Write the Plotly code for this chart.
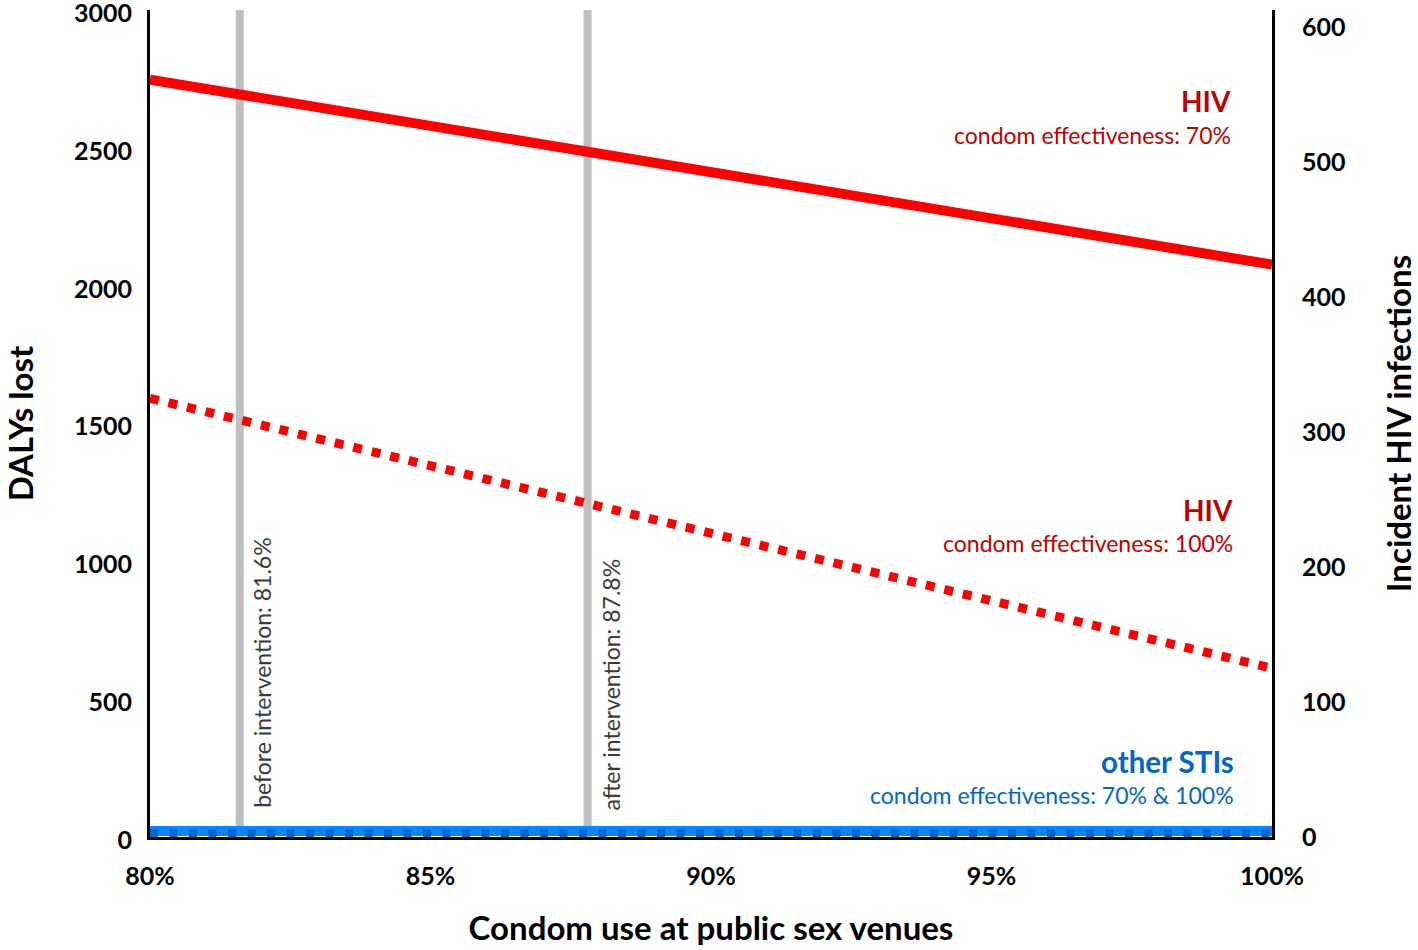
import plotly.graph_objects as go

# ---- data ----
condom_use = [80, 100]                      # % condom use at public sex venues
hiv_eff70 = [561, 424]                       # incident HIV infections, condom effectiveness 70%
hiv_eff100 = [325, 125]                      # incident HIV infections, condom effectiveness 100%
sti_eff70 = [22, 22]                         # DALYs lost, other STIs (70%)
sti_eff100 = [14, 14]                        # DALYs lost, other STIs (100%)
intervention_x = [81.6, 87.8]
intervention_labels = ["before intervention: 81.6%", "after intervention: 87.8%"]
x_ticks = [80, 85, 90, 95, 100]
x_ticklabels = ["80%", "85%", "90%", "95%", "100%"]
left_ticks = [0, 500, 1000, 1500, 2000, 2500, 3000]
right_ticks = [0, 100, 200, 300, 400, 500, 600]

FONT = "Lato"
fig = go.Figure()

fig.add_trace(go.Scatter(x=condom_use, y=sti_eff70, mode="lines", yaxis="y",
                         line=dict(color="#0A84FF", width=10), showlegend=False, hoverinfo="skip"))
fig.add_trace(go.Scatter(x=condom_use, y=sti_eff100, mode="lines", yaxis="y",
                         line=dict(color="#0068C8", width=8, dash="8px,11.5px"), showlegend=False, hoverinfo="skip"))
fig.add_trace(go.Scatter(x=condom_use, y=hiv_eff70, mode="lines", yaxis="y2",
                         line=dict(color="#FF0000", width=10), showlegend=False))
fig.add_trace(go.Scatter(x=condom_use, y=hiv_eff100, mode="lines", yaxis="y2",
                         line=dict(color="#FF0000", width=9, dash="9px,10px"), showlegend=False))

for xv, lab, shift, bot in zip(intervention_x, intervention_labels, [22, 23], [0.0326, 0.029]):
    fig.add_shape(type="line", x0=xv, x1=xv, xref="x", yref="paper", y0=0, y1=1,
                  line=dict(color="#BFBFBF", width=8), layer="below")
    fig.add_annotation(x=xv, xref="x", y=bot, yref="paper", text=lab, textangle=-90,
                       xanchor="center", yanchor="bottom", xshift=shift, showarrow=False,
                       font=dict(family=FONT, size=23, color="#3A3A3A"))

red_dark = "#C00000"
blue_dark = "#0066CC"
labels = [
    ("<b>HIV</b>", 0.9626, 0.890, 28, red_dark),
    ("condom effectiveness: 70%", 0.9626, 0.849, 23, red_dark),
    ("<b>HIV</b>", 0.9643, 0.395, 28, red_dark),
    ("condom effectiveness: 100%", 0.9643, 0.3555, 23, red_dark),
    ("<b>other STIs</b>", 0.9652, 0.0907, 29.5, blue_dark),
    ("condom effectiveness: 70% &amp; 100%", 0.9652, 0.0508, 23, blue_dark),
]
for txt, xp, yp, sz, col in labels:
    fig.add_annotation(x=xp, y=yp, xref="paper", yref="paper", text=txt, showarrow=False,
                       xanchor="right", yanchor="middle", xshift=3,
                       font=dict(family=FONT, size=sz, color=col))

tickfont = dict(family=FONT, size=25, color="black", weight="bold")
titlefont = dict(family=FONT, size=33, color="black", weight="bold")

fig.update_layout(
    width=1418, height=950,
    margin=dict(l=150, r=146, t=10, b=113),
    plot_bgcolor="white", paper_bgcolor="white",
    xaxis=dict(range=[80, 100], tickvals=x_ticks, ticktext=x_ticklabels, showgrid=False,
               zeroline=False, showline=True, linecolor="black", linewidth=3, ticks="",
               tickfont=tickfont, ticklabelstandoff=15, automargin=False,
               ticklabeloverflow="allow",
               title=dict(text="Condom use at public sex venues", font=titlefont, standoff=28)),
    yaxis=dict(range=[0, 3000.5], tickvals=left_ticks, showgrid=False, zeroline=False,
               showline=True, linecolor="black", linewidth=3, ticks="", tickfont=tickfont,
               ticklabelstandoff=10, ticklabelshift=3, automargin=False,
               ticklabeloverflow="allow",
               title=dict(text="DALYs lost", font=titlefont, standoff=61)),
    yaxis2=dict(range=[0, 612.6], tickvals=right_ticks, overlaying="y", side="right",
                showgrid=False, zeroline=False, showline=True, linecolor="black", linewidth=3,
                ticks="", tickfont=tickfont, ticklabelstandoff=22, automargin=False,
                ticklabeloverflow="allow",
                title=dict(text="Incident HIV infections", font=titlefont, standoff=51)),
)

# remove the default page margin so the figure fills the 1418x950 window exactly
fig.write_html("out.html", config={"displayModeBar": False},
               post_script="document.body.style.margin='0px';")
